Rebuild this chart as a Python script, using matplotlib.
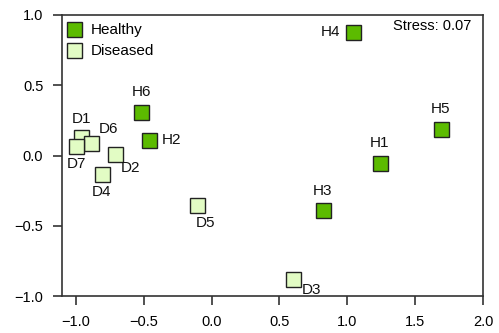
import matplotlib.pyplot as plt

plt.rcParams['font.family'] = ['Liberation Sans', 'DejaVu Sans']

# NMDS coordinates
healthy_names = ["H1", "H2", "H3", "H4", "H5", "H6"]
healthy_x = [1.24, -0.46, 0.82, 1.04, 1.69, -0.52]
healthy_y = [-0.05, 0.11, -0.39, 0.88, 0.19, 0.31]

diseased_names = ["D1", "D2", "D3", "D4", "D5", "D6", "D7"]
diseased_x = [-0.96, -0.71, 0.60, -0.81, -0.11, -0.89, -1.00]
diseased_y = [0.13, 0.01, -0.88, -0.13, -0.35, 0.09, 0.07]

stress = 0.07

# label offsets in points (dx, dy, ha, va)
lab_pos = {
    "H1": (0, 9, "center", "bottom"), "H2": (9, 0, "left", "center"),
    "H3": (0, 9, "center", "bottom"), "H4": (-9, 0, "right", "center"),
    "H5": (0, 9, "center", "bottom"), "H6": (0, 9, "center", "bottom"),
    "D1": (0, 8, "center", "bottom"), "D2": (4, -5, "left", "top"),
    "D3": (6, -3, "left", "top"), "D4": (0, -8, "center", "top"),
    "D5": (6, -8, "center", "top"), "D6": (6, 5, "left", "bottom"),
    "D7": (0, -8, "center", "top"),
}

fig = plt.figure(figsize=(4.99, 3.33), dpi=100)
ax = fig.add_axes([62/499, 1 - 296/333, (483-62)/499, (296-15)/333])

ax.plot(diseased_x, diseased_y, 's', ms=10.8, mfc='#e2fcc4', mec='#222222', mew=1.0,
        ls='none', label='Diseased', zorder=3)
ax.plot(healthy_x, healthy_y, 's', ms=10.8, mfc='#5cbb00', mec='#222222', mew=1.0,
        ls='none', label='Healthy', zorder=3)

for names, xs, ys in [(healthy_names, healthy_x, healthy_y), (diseased_names, diseased_x, diseased_y)]:
    for n, x, y in zip(names, xs, ys):
        dx, dy, ha, va = lab_pos[n]
        ax.annotate(n, (x, y), xytext=(dx, dy), textcoords='offset points',
                    ha=ha, va=va, fontsize=11, color='#111111')

h, l = ax.get_legend_handles_labels()
ax.legend(h[::-1], l[::-1], loc='upper left', bbox_to_anchor=(-0.012, 1.0),
          frameon=False, fontsize=11,
          handletextpad=0.55, labelspacing=0.45, borderaxespad=0.3,
          handlelength=1.1, borderpad=0.25)

ax.text(0.972, 0.985, "Stress: %.2f" % stress, transform=ax.transAxes,
        ha='right', va='top', fontsize=10.5)

ax.set_xlim(-1.103, 2.0)
ax.set_ylim(-1.0, 1.0)
ax.set_xticks([-1.0, -0.5, 0.0, 0.5, 1.0, 1.5, 2.0])
ax.set_yticks([-1.0, -0.5, 0.0, 0.5, 1.0])
ax.tick_params(direction='out', length=6.5, width=1.2, labelsize=10.5, pad=7, color='#333333')
for s in ax.spines.values():
    s.set_linewidth(1.2)
    s.set_color('#333333')

fig.savefig('out.png', dpi=100)
